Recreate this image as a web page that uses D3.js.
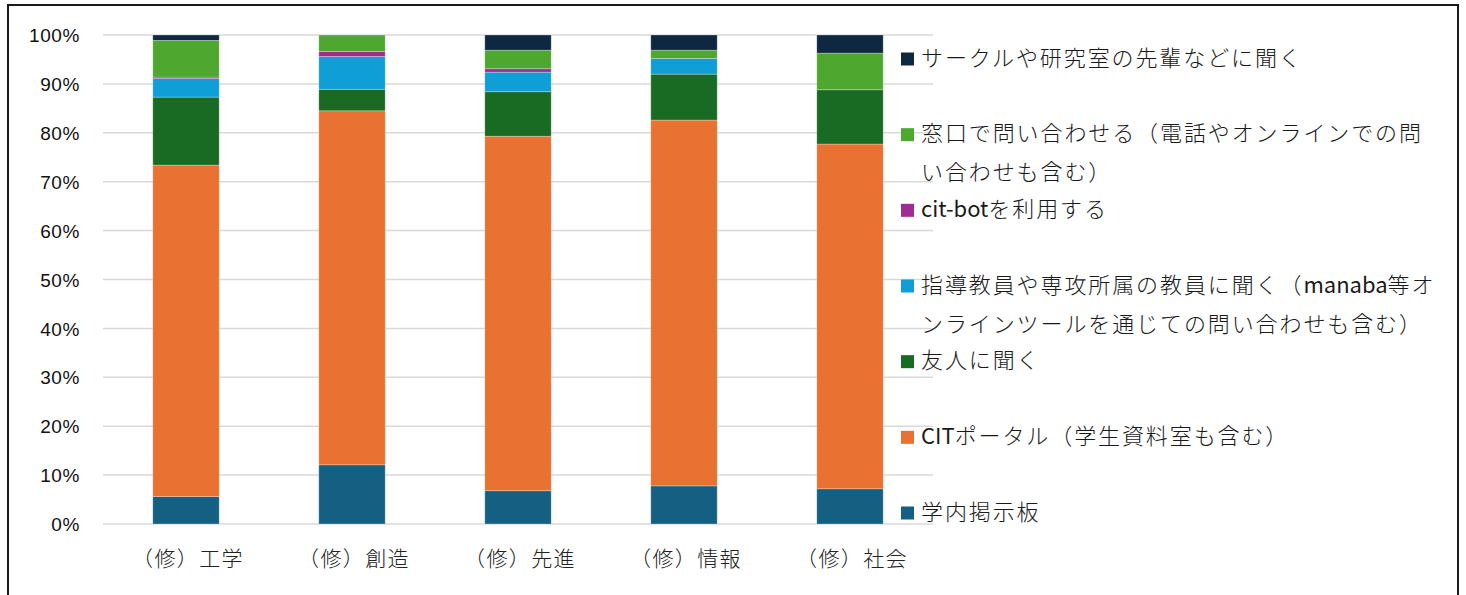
<!DOCTYPE html>
<html><head><meta charset="utf-8">
<script src="https://cdn.jsdelivr.net/npm/d3@7"></script>
<style>
html,body{margin:0;padding:0;background:#fff;}
svg{display:block;}
</style></head>
<body>
<svg id="chart" width="1466" height="595"></svg>
<script>
const categories = ["（修）工学","（修）創造","（修）先進","（修）情報","（修）社会"];
const seriesNames = ["学内掲示板","CITポータル（学生資料室も含む）","友人に聞く","指導教員や専攻所属の教員に聞く（manaba等オンラインツールを通じての問い合わせも含む）","cit-botを利用する","窓口で問い合わせる（電話やオンラインでの問い合わせも含む）","サークルや研究室の先輩などに聞く"];
const s_keiji   = [5.6, 12.1, 6.8, 7.8, 7.2];
const s_portal  = [67.8, 72.4, 72.5, 74.8, 70.5];
const s_yujin   = [13.9, 4.4, 9.1, 9.4, 11.1];
const s_kyoin   = [3.8, 6.7, 4.0, 3.2, 0.0];
const s_citbot  = [0.3, 1.0, 0.7, 0.0, 0.0];
const s_madoguchi = [7.5, 3.4, 3.8, 1.7, 7.5];
const s_senpai  = [1.1, 0.0, 3.1, 3.1, 3.7];
const yTicks = [0,10,20,30,40,50,60,70,80,90,100];
const legendLines = [
  ["サークルや研究室の先輩などに聞く"],
  ["窓口で問い合わせる（電話やオンラインでの問","い合わせも含む）"],
  ["cit-botを利用する"],
  ["指導教員や専攻所属の教員に聞く（manaba等オ","ンラインツールを通じての問い合わせも含む）"],
  ["友人に聞く"],
  ["CITポータル（学生資料室も含む）"],
  ["学内掲示板"]
];
const colors = ["#156082","#E97132","#196B24","#0F9ED5","#A02B93","#4EA72E","#0E2841"];

const seriesValues = [s_keiji,s_portal,s_yujin,s_kyoin,s_citbot,s_madoguchi,s_senpai];
const rows = categories.map((c,i)=>{const r={cat:c}; seriesNames.forEach((n,j)=>r[n]=seriesValues[j][i]); return r;});
const stack = d3.stack().keys(seriesNames)(rows);

const svg = d3.select("#chart");
svg.append("rect").attr("x",8).attr("y",5).attr("width",1450).attr("height",620)
  .attr("fill","#fff").attr("stroke","#1a1a1a").attr("stroke-width",2);

const x = d3.scaleBand().domain(categories).range([103,933]).paddingInner(0.6).paddingOuter(0.3);
const y = d3.scaleLinear().domain([0,100]).range([524,35]);

// gridlines
svg.append("g").selectAll("line").data(yTicks).join("line")
  .attr("x1",103).attr("x2",933).attr("y1",d=>y(d)).attr("y2",d=>y(d))
  .attr("stroke","#d9d9d9").attr("stroke-width",1.5);

// y axis labels
const yAxis = d3.axisLeft(y).tickValues(yTicks).tickFormat(d=>d+"%").tickSize(0).tickPadding(0);
const ya = svg.append("g").attr("transform","translate(80,0)").call(yAxis);
ya.select(".domain").remove();
ya.selectAll("text").attr("font-family","'Liberation Sans', Arial, sans-serif").attr("font-size",19)
  .attr("letter-spacing","0.6px").attr("fill","#111").attr("dy","0.35em");

// bars
svg.append("g").selectAll("g").data(stack).join("g")
  .attr("fill",(d,i)=>colors[i])
  .selectAll("rect").data(d=>d).join("rect")
  .attr("x",d=>x(d.data.cat)).attr("width",x.bandwidth())
  .attr("y",d=>y(d[1])).attr("height",d=>Math.max(0,y(d[0])-y(d[1])))
  .attr("stroke",d=>(d[1]-d[0])>0?"#ffffff":"none").attr("stroke-opacity",0.35).attr("stroke-width",0.8);

// x axis labels
const xAxis = d3.axisBottom(x).tickSize(0).tickPadding(0);
const xa = svg.append("g").attr("transform","translate(2,559)").call(xAxis);
xa.select(".domain").remove();
xa.selectAll("text").attr("font-family","'Noto Sans CJK JP', sans-serif").attr("font-size",21)
  .attr("font-weight",300).attr("letter-spacing","1.4px").attr("fill","#222").attr("dy","0.35em");

// legend
const legendOrder = d3.range(seriesNames.length).reverse();
const ly = d3.scalePoint().domain(d3.range(7)).range([58,512]);
const lg = svg.append("g");
legendOrder.forEach((si,k)=>{
  const yy = ly(k);
  lg.append("rect").attr("x",901).attr("y",yy-5.5).attr("width",13).attr("height",13).attr("fill",colors[si]);
  legendLines[k].forEach((line,li)=>{
    const t = lg.append("text").attr("x",921).attr("y",yy+li*39).attr("dy","0.35em")
      .attr("font-family","'Noto Sans CJK JP', sans-serif").attr("font-size",22).attr("font-weight",300).attr("fill","#1a1a1a");
    const parts = line.match(/[\x00-\x7F]+|[^\x00-\x7F]+/g);
    parts.forEach(p=>{
      const ascii = /^[\x00-\x7F]+$/.test(p);
      t.append("tspan").text(p).attr("letter-spacing", ascii? "0px":"1.9px").attr("font-weight", ascii?400:300);
    });
  });
});
</script>
</body></html>
